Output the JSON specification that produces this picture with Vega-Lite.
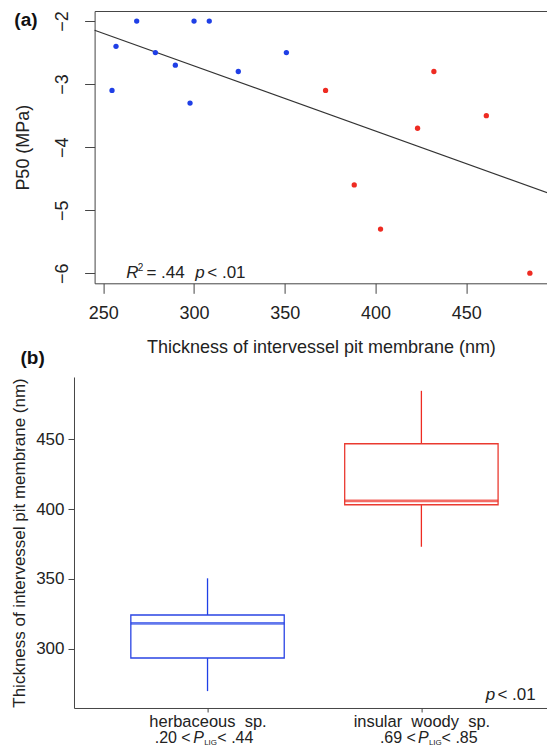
{
  "$schema": "https://vega.github.io/schema/vega-lite/v6.json",
  "background": "white",
  "padding": {"left": 10.6, "top": 10, "right": 0, "bottom": 0},
  "config": {
    "font": "Liberation Sans",
    "axis": {"grid": false, "labelColor": "#222", "titleColor": "#222", "tickColor": "#444", "domainColor": "#444", "titleFontWeight": "normal", "labelFlush": false, "labelOverlap": false},
    "text": {"color": "#222"}
  },
  "datasets": {
    "pts": [
      {"thickness": 254.8, "p50": -3.1, "group": "herbaceous"},
      {"thickness": 257.0, "p50": -2.4, "group": "herbaceous"},
      {"thickness": 268.4, "p50": -2.0, "group": "herbaceous"},
      {"thickness": 278.7, "p50": -2.5, "group": "herbaceous"},
      {"thickness": 289.7, "p50": -2.7, "group": "herbaceous"},
      {"thickness": 297.8, "p50": -3.3, "group": "herbaceous"},
      {"thickness": 300.0, "p50": -2.0, "group": "herbaceous"},
      {"thickness": 308.4, "p50": -2.0, "group": "herbaceous"},
      {"thickness": 324.4, "p50": -2.8, "group": "herbaceous"},
      {"thickness": 350.9, "p50": -2.5, "group": "herbaceous"},
      {"thickness": 372.5, "p50": -3.1, "group": "insular woody"},
      {"thickness": 388.3, "p50": -4.6, "group": "insular woody"},
      {"thickness": 402.8, "p50": -5.3, "group": "insular woody"},
      {"thickness": 423.2, "p50": -3.7, "group": "insular woody"},
      {"thickness": 432.2, "p50": -2.8, "group": "insular woody"},
      {"thickness": 461.1, "p50": -3.5, "group": "insular woody"},
      {"thickness": 485.1, "p50": -6.0, "group": "insular woody"}
    ],
    "fit": [
      {"thickness": 245.2, "p50": -2.146},
      {"thickness": 494.7, "p50": -4.723}
    ],
    "labA": [{"thickness": 200.95, "p50": -2.08, "t": "(a)"}],
    "statItalic": [
      {"thickness": 262.7, "p50": -6.076, "t": "R"},
      {"thickness": 300.7, "p50": -6.076, "t": "p"}
    ],
    "statSup": [{"thickness": 269.0, "p50": -5.965, "t": "2"}],
    "statNormal": [
      {"thickness": 273.75, "p50": -6.076, "t": "= .44"},
      {"thickness": 307.3, "p50": -6.076, "t": "< .01"}
    ],
    "box": [
      {"grp": 1, "group": "herbaceous", "min": 269.6, "q1": 293.3, "med": 318.1, "q3": 324.1, "max": 350.4},
      {"grp": 2, "group": "insular woody", "min": 373.0, "q1": 403.1, "med": 405.9, "q3": 446.8, "max": 484.7}
    ],
    "line2Normal": [
      {"grp": 0.753, "v": 232.6, "t": ".20 <"},
      {"grp": 1.046, "v": 232.6, "t": "< .44"},
      {"grp": 1.806, "v": 232.6, "t": ".69 <"},
      {"grp": 2.0946, "v": 232.6, "t": "< .85"}
    ],
    "line2P": [
      {"grp": 0.9338, "v": 232.6, "t": "P"},
      {"grp": 1.9847, "v": 232.6, "t": "P"}
    ],
    "line2Sub": [
      {"grp": 0.9842, "v": 230.8, "t": "LIG"},
      {"grp": 2.0351, "v": 230.8, "t": "LIG"}
    ],
    "labB": [{"grp": 0.1257, "v": 504.0, "t": "(b)"}],
    "pItalic": [{"grp": 2.3006, "v": 263.2, "t": "p"}],
    "pNormal": [{"grp": 2.3556, "v": 263.2, "t": "< .01"}]
  },
  "vconcat": [
    {
      "width": 452.7,
      "height": 272.3,
      "view": {"stroke": "#444", "strokeWidth": 1},
      "encoding": {
        "x": {"field": "thickness", "type": "quantitative",
              "scale": {"domain": [245.2, 494.7], "nice": false, "zero": false},
              "axis": {"values": [250, 300, 350, 400, 450], "title": "Thickness of intervessel pit membrane (nm)",
                       "domain": false, "tickSize": 10, "labelFontSize": 18, "labelPadding": 11,
                       "titleFontSize": 18, "titlePadding": 16}},
        "y": {"field": "p50", "type": "quantitative",
              "scale": {"domain": [-6.16, -1.84], "nice": false, "zero": false},
              "axis": {"values": [-6, -5, -4, -3, -2], "title": "P50 (MPa)", "domain": false, "tickSize": 10,
                       "labelAngle": -90, "labelAlign": "center", "labelBaseline": "alphabetic", "labelPadding": 17,
                       "labelFontSize": 18, "titleFontSize": 18, "titlePadding": 21}}
      },
      "layer": [
        {"data": {"name": "fit"}, "mark": {"type": "line", "color": "#333", "strokeWidth": 1.2}},
        {"data": {"name": "pts"}, "mark": {"type": "circle", "size": 28, "opacity": 1},
         "encoding": {"color": {"field": "group", "type": "nominal",
                                "scale": {"domain": ["herbaceous", "insular woody"], "range": ["#1f3fe6", "#ee2b22"]},
                                "legend": null}}},
        {"data": {"name": "labA"}, "mark": {"type": "text", "fontSize": 19, "fontWeight": "bold", "align": "left", "baseline": "alphabetic", "color": "#111"},
         "encoding": {"text": {"field": "t"}}},
        {"data": {"name": "statItalic"}, "mark": {"type": "text", "fontSize": 17, "fontStyle": "italic", "align": "left", "baseline": "alphabetic"},
         "encoding": {"text": {"field": "t"}}},
        {"data": {"name": "statSup"}, "mark": {"type": "text", "fontSize": 10, "align": "left", "baseline": "alphabetic"},
         "encoding": {"text": {"field": "t"}}},
        {"data": {"name": "statNormal"}, "mark": {"type": "text", "fontSize": 17, "align": "left", "baseline": "alphabetic"},
         "encoding": {"text": {"field": "t"}}}
      ]
    },
    {
      "width": 453.7,
      "height": 331,
      "view": {"stroke": null},
      "encoding": {
        "x": {"field": "grp", "type": "quantitative",
              "scale": {"domain": [0.399, 2.57], "range": [-20.6, 453.7], "nice": false, "zero": false},
              "axis": {"values": [1, 2], "title": null, "domain": true, "tickSize": 4, "labelFontSize": 16.5, "labelPadding": 2,
                       "labelExpr": "datum.value == 1 ? 'herbaceous\u00a0 sp.' : 'insular\u00a0 woody\u00a0 sp.'"}}
      },
      "layer": [
        {"data": {"name": "box"}, "mark": {"type": "rule", "strokeWidth": 1.3},
         "encoding": {
           "y": {"field": "min", "type": "quantitative",
                 "scale": {"domain": [257.5, 494.6], "nice": false, "zero": false},
                 "axis": {"values": [300, 350, 400, 450], "title": "Thickness of intervessel pit membrane (nm)", "domain": true,
                          "offset": 20.6, "tickSize": 6, "labelPadding": 4, "labelFontSize": 17, "titleFontSize": 17, "titlePadding": 6.7}},
           "y2": {"field": "max"},
           "color": {"field": "group", "type": "nominal",
                     "scale": {"domain": ["herbaceous", "insular woody"], "range": ["#2a44e4", "#ea3a30"]}, "legend": null}}},
        {"data": {"name": "box"}, "mark": {"type": "bar", "width": 153.4, "fill": "white", "strokeWidth": 1.3},
         "encoding": {
           "y": {"field": "q1", "type": "quantitative"},
           "y2": {"field": "q3"},
           "stroke": {"field": "group", "type": "nominal",
                      "scale": {"domain": ["herbaceous", "insular woody"], "range": ["#2a44e4", "#ea3a30"]}, "legend": null}}},
        {"data": {"name": "box"}, "mark": {"type": "tick", "orient": "horizontal", "size": 153.4, "thickness": 2.6},
         "encoding": {
           "y": {"field": "med", "type": "quantitative"},
           "color": {"field": "group", "type": "nominal", "legend": null}}},
        {"data": {"name": "line2Normal"}, "mark": {"type": "text", "fontSize": 16, "align": "left", "baseline": "alphabetic"},
         "encoding": {"y": {"field": "v", "type": "quantitative"}, "text": {"field": "t"}}},
        {"data": {"name": "line2P"}, "mark": {"type": "text", "fontSize": 16, "fontStyle": "italic", "align": "left", "baseline": "alphabetic"},
         "encoding": {"y": {"field": "v", "type": "quantitative"}, "text": {"field": "t"}}},
        {"data": {"name": "line2Sub"}, "mark": {"type": "text", "fontSize": 8, "align": "left", "baseline": "alphabetic"},
         "encoding": {"y": {"field": "v", "type": "quantitative"}, "text": {"field": "t"}}},
        {"data": {"name": "labB"}, "mark": {"type": "text", "fontSize": 19, "fontWeight": "bold", "align": "left", "baseline": "alphabetic", "color": "#111"},
         "encoding": {"y": {"field": "v", "type": "quantitative"}, "text": {"field": "t"}}},
        {"data": {"name": "pItalic"}, "mark": {"type": "text", "fontSize": 17, "fontStyle": "italic", "align": "left", "baseline": "alphabetic"},
         "encoding": {"y": {"field": "v", "type": "quantitative"}, "text": {"field": "t"}}},
        {"data": {"name": "pNormal"}, "mark": {"type": "text", "fontSize": 17, "align": "left", "baseline": "alphabetic"},
         "encoding": {"y": {"field": "v", "type": "quantitative"}, "text": {"field": "t"}}}
      ]
    }
  ],
  "bounds": "full",
  "spacing": -9
}
